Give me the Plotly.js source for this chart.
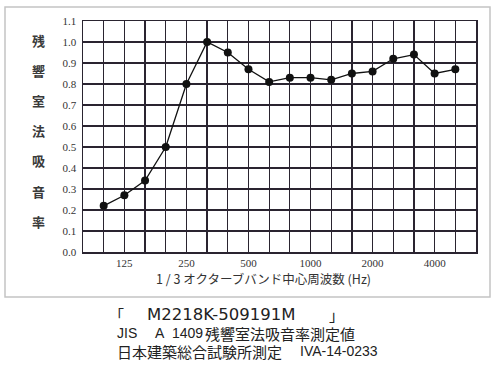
<!DOCTYPE html>
<html>
<head>
<meta charset="utf-8">
<script src="https://cdn.plot.ly/plotly-3.0.1.min.js"></script>
<style>
  html, body { margin: 0; padding: 0; background: #ffffff; }
  #chart { width: 500px; height: 367px; }
</style>
</head>
<body>
<div id="chart"></div>
<script>
// 1/3 octave band centre frequencies (Hz)
const bandFrequencies = [100, 125, 160, 200, 250, 315, 400, 500, 630, 800, 1000, 1250, 1600, 2000, 2500, 3150, 4000, 5000];
// reverberation-room sound absorption coefficient
const absorptionCoefficients = [0.22, 0.27, 0.34, 0.50, 0.80, 1.00, 0.95, 0.87, 0.81, 0.83, 0.83, 0.82, 0.85, 0.86, 0.92, 0.94, 0.85, 0.87];
// frequencies shown as tick labels
const labeledFrequencies = [125, 250, 500, 1000, 2000, 4000];
const yTitleChars = ['残', '響', '室', '法', '吸', '音', '率'];
const xTitle = '1 / 3 オクターブバンド中心周波数 (Hz)';
// caption lines, split into pieces
const captionLine1 = ['「', 'M2218K-509191M', '」'];
const captionLine2 = ['JIS', 'A', '1409', '残響室法吸音率測定値'];
const captionLine3 = ['日本建築総合試験所測定', 'IVA-14-0233'];

const W = 500, H = 367;
const mL = 83, mR = 24, mT = 21, mB = 115;
const pw = W - mL - mR, ph = H - mT - mB;
const px2x = p => (p - mL) / pw;
const py2y = p => (H - mB - p) / ph;

const xPos = bandFrequencies.map((f, i) => i + 1);
const nSlots = bandFrequencies.length + 2;
const tickvals = [], ticktext = [];
for (let i = 0; i < nSlots; i++) {
  tickvals.push(i);
  const f = (i >= 1 && i <= bandFrequencies.length) ? bandFrequencies[i - 1] : null;
  ticktext.push(f !== null && labeledFrequencies.includes(f) ? String(f) : '');
}

const gridColor = '#2a2430';
const serif = 'Liberation Serif, DejaVu Serif, serif';
const cjk = 'Noto Sans CJK JP, sans-serif';
const latin = 'Liberation Sans, Noto Sans CJK JP, sans-serif';
const wide = 'DejaVu Sans, sans-serif';

const annotations = [];
yTitleChars.forEach((c, i) => {
  annotations.push({
    text: '<b>' + c + '</b>', xref: 'paper', yref: 'paper',
    x: px2x(38), y: py2y(40 + i * 30.2),
    xanchor: 'center', yanchor: 'middle', showarrow: false,
    font: { family: cjk, size: 13, color: '#3a3a3a' }
  });
});
annotations.push({
  text: xTitle, xref: 'paper', yref: 'paper',
  x: px2x(263), y: py2y(278), xanchor: 'center', yanchor: 'middle', showarrow: false,
  font: { family: cjk, size: 12.5, color: '#333' }
});

function cap(text, px, py, family, size) {
  annotations.push({
    text: text, xref: 'paper', yref: 'paper',
    x: px2x(px), y: py2y(py), xanchor: 'left', yanchor: 'middle', showarrow: false,
    font: { family: family, size: size, color: '#222' }
  });
}
// line 1
cap(captionLine1[0], 107, 314, cjk, 15);
cap(captionLine1[1], 145, 314.5, wide, 16.5);
cap(captionLine1[2], 327, 314, cjk, 15);
// line 2
cap(captionLine2[0], 115, 333, latin, 14);
cap(captionLine2[1], 153, 333, latin, 14);
cap(captionLine2[2], 170, 333, latin, 14);
cap(captionLine2[3], 203, 333, cjk, 15);
// line 3
cap(captionLine3[0], 115, 351, cjk, 15);
cap(captionLine3[1], 298, 351, latin, 14);

const data = [{
  x: xPos, y: absorptionCoefficients,
  type: 'scatter', mode: 'lines+markers',
  line: { color: '#111', width: 1.3 },
  marker: { color: '#111', size: 8 },
  cliponaxis: false, hoverinfo: 'skip'
}];

const layout = {
  width: W, height: H,
  margin: { l: mL, r: mR, t: mT, b: mB, pad: 0 },
  paper_bgcolor: '#ffffff', plot_bgcolor: '#ffffff',
  showlegend: false,
  xaxis: {
    range: [0, nSlots - 1], tickmode: 'array', tickvals: tickvals, ticktext: ticktext,
    showgrid: true, gridcolor: gridColor, gridwidth: 1.3, zeroline: false,
    showline: true, linecolor: gridColor, linewidth: 1.5, mirror: true,
    ticks: '', tickfont: { family: serif, size: 11, color: '#333' }, ticklabelstandoff: 0
  },
  yaxis: {
    range: [0, 1.1], tick0: 0, dtick: 0.1, tickformat: '.1f',
    showgrid: true, gridcolor: gridColor, gridwidth: 1.3, zeroline: false,
    showline: true, linecolor: gridColor, linewidth: 1.5, mirror: true,
    ticks: '', tickfont: { family: serif, size: 11, color: '#333' }, ticklabelstandoff: 3
  },
  shapes: [{
    type: 'rect', xref: 'paper', yref: 'paper',
    x0: px2x(5), x1: px2x(490), y0: py2y(297), y1: py2y(7),
    line: { color: '#c4c4c4', width: 1.5 }, layer: 'below'
  }],
  annotations: annotations
};

Plotly.newPlot('chart', data, layout, { staticPlot: true, displayModeBar: false });
</script>
</body>
</html>
